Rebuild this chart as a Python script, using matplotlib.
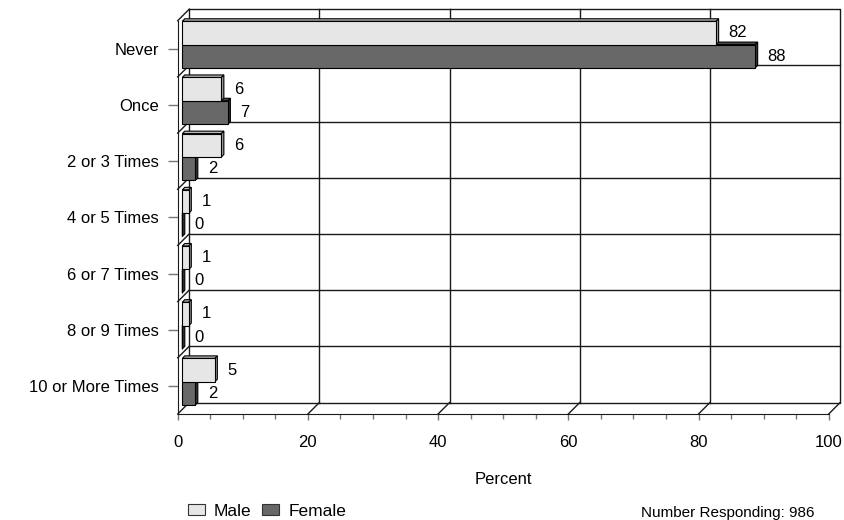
import matplotlib.pyplot as plt
from matplotlib.patches import Patch

plt.rcParams['font.family'] = ['Liberation Sans', 'DejaVu Sans']

categories = ['Never', 'Once', '2 or 3 Times', '4 or 5 Times', '6 or 7 Times',
              '8 or 9 Times', '10 or More Times']
male = [82, 6, 6, 1, 1, 1, 5]
female = [88, 7, 2, 0, 0, 0, 2]
x_ticks = [0, 20, 40, 60, 80, 100]

male_face, male_side, male_top = '#e6e6e6', '#9a9a9a', '#b8b8b8'
fem_face, fem_side, fem_top = '#686868', '#303030', '#4a4a4a'

fig = plt.figure(figsize=(8.44, 5.2), dpi=100)
ax = fig.add_axes([177.7 / 844, 106 / 520, 651 / 844, 393.3 / 520])
n = len(categories)
ax.set_xlim(0, 100)
ax.set_ylim(n, 0)

# pixel -> data unit helpers for the pseudo 3d offsets
pos = ax.get_position()
px_x = 100 / (pos.width * 844)
px_y = n / (pos.height * 520)

wall = 11.5   # depth of back wall, px
bar_off = 4.6  # bars sit this far into the box, px
depth = 2.5   # bar thickness, px

wx, wy = wall * px_x, wall * px_y
lc = '#1a1a1a'
kw = dict(color=lc, lw=1, clip_on=False, zorder=1)

# back wall outline and grid
ax.plot([wx, 100 + wx, 100 + wx, wx, wx], [-wy, -wy, n - wy, n - wy, -wy], **kw)
for t in x_ticks[1:-1]:
    ax.plot([t + wx, t + wx], [-wy, n - wy], **kw)
for k in range(1, n):
    ax.plot([wx, 100 + wx], [k - wy, k - wy], **kw)

# side wall and floor diagonals
for k in range(n + 1):
    ax.plot([0, wx], [k, k - wy], **kw)
for t in x_ticks[1:]:
    ax.plot([t, t + wx], [n, n - wy], **kw)


def bar3d(yc, h, v, face, side, top, z):
    bx, by = bar_off * px_x, bar_off * px_y
    dx, dy = depth * px_x, depth * px_y
    y0, y1 = yc - h / 2 - by, yc + h / 2 - by
    x1 = bx + v
    ax.fill([bx, x1, x1 + dx, bx + dx], [y0, y0, y0 - dy, y0 - dy],
            facecolor=top, edgecolor='black', lw=0.8, zorder=z, clip_on=False)
    ax.fill([x1, x1, x1 + dx, x1 + dx], [y0, y1, y1 - dy, y0 - dy],
            facecolor=side, edgecolor='black', lw=0.8, zorder=z, clip_on=False)
    ax.barh(yc - by, v, height=h, left=bx, color=face, edgecolor='black',
            lw=0.8, zorder=z + 0.5, clip_on=False)
    ax.text(x1 + 12.5 * px_x, yc - by, str(v), ha='left', va='center',
            fontsize=12, zorder=6)


h = 0.415
for i in range(n):
    c = i + 0.507
    bar3d(c + h / 2, h, female[i], fem_face, fem_side, fem_top, 3)
    bar3d(c - h / 2, h, male[i], male_face, male_side, male_top, 4)

# front axes
for s in ['top', 'right']:
    ax.spines[s].set_visible(False)
for s in ['left', 'bottom']:
    ax.spines[s].set_color(lc)
    ax.spines[s].set_zorder(7)

ax.set_xticks(x_ticks)
ax.set_xticks(range(0, 101, 5), minor=True)
ax.set_yticks([i + 0.5 for i in range(n)])
ax.set_yticklabels(categories)
ax.tick_params(axis='x', which='major', length=4.3, width=1, color='#777777',
               pad=11, labelsize=12)
ax.tick_params(axis='x', which='minor', length=3.6, width=1, color='#777777')
ax.tick_params(axis='y', length=7.2, width=1, color='#777777', pad=6.5,
               labelsize=12)
ax.set_xlabel('Percent', fontsize=12, labelpad=16)

handles = [Patch(facecolor=male_face, edgecolor='#333333', lw=0.8, label='Male'),
           Patch(facecolor=fem_face, edgecolor='#333333', lw=0.8, label='Female')]
fig.legend(handles=handles, loc='center', bbox_to_anchor=(267 / 844, 1 - 511 / 520),
           ncol=2, frameon=False, fontsize=12.5, handlelength=1.0, handleheight=0.55,
           handletextpad=0.5, columnspacing=0.6)

fig.text(641 / 844, 1 - 513 / 520, 'Number Responding: 986', fontsize=11,
         ha='left', va='center')

fig.savefig('out.png', dpi=100)
